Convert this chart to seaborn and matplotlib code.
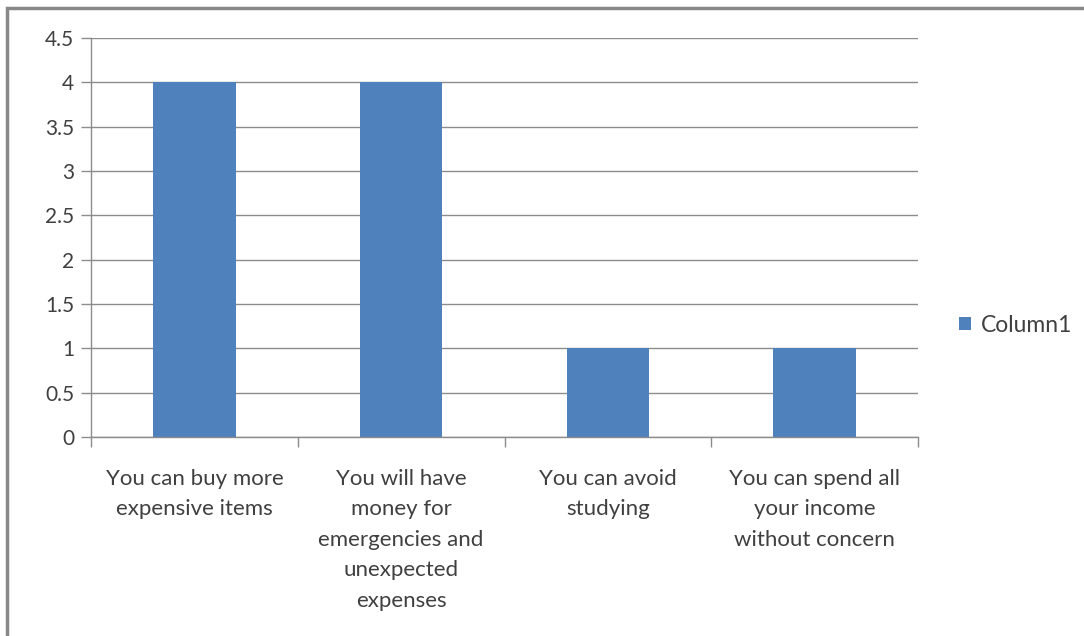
import matplotlib
matplotlib.use("Agg")
import matplotlib.pyplot as plt
import seaborn as sns
import pandas as pd
from matplotlib.patches import Rectangle

categories = [
    "You can buy more\nexpensive items",
    "You will have\nmoney for\nemergencies and\nunexpected\nexpenses",
    "You can avoid\nstudying",
    "You can spend all\nyour income\nwithout concern",
]
values = [4, 4, 1, 1]
series_name = "Column1"
yticks = [0, 0.5, 1, 1.5, 2, 2.5, 3, 3.5, 4, 4.5]
ytick_labels = ["0", "0.5", "1", "1.5", "2", "2.5", "3", "3.5", "4", "4.5"]

sns.set_theme(style="white")
plt.rcParams["font.family"] = ["Lato", "DejaVu Sans"]

text_color = "#404040"
bar_color = "#4F81BD"
grid_color = "#8c8c8c"

df = pd.DataFrame({"category": categories, "value": values, "series": series_name})

fig = plt.figure(figsize=(10.84, 6.36), dpi=100)
ax = fig.add_axes([91 / 1084, 1 - 437 / 636, (918 - 91) / 1084, (437 - 38) / 636])

sns.barplot(data=df, x="category", y="value", hue="series", palette=[bar_color],
            width=0.4, ax=ax, saturation=1, legend=True, linewidth=0)

ax.set_xlim(-0.5, len(categories) - 0.5)
ax.set_ylim(0, 4.5)
ax.set_yticks(yticks)
ax.set_yticklabels(ytick_labels, fontsize=15, color=text_color)
ax.yaxis.grid(True, color=grid_color, linewidth=1)
ax.set_axisbelow(True)
ax.set_xlabel("")
ax.set_ylabel("")

for s in ["top", "right"]:
    ax.spines[s].set_visible(False)
for s in ["left", "bottom"]:
    ax.spines[s].set_color(grid_color)
    ax.spines[s].set_linewidth(1)

ax.tick_params(axis="y", which="major", length=7, width=1, color=grid_color,
               direction="out", left=True, pad=5)

# category labels (multi-line, Excel-like line spacing)
ax.set_xticks(range(len(categories)))
ax.set_xticklabels([""] * len(categories))
ax.tick_params(axis="x", which="major", length=0)
for i, cat in enumerate(categories):
    ax.annotate(cat, xy=(i, 0), xycoords=ax.get_xaxis_transform(),
                xytext=(0, -32), textcoords="offset pixels",
                ha="center", va="top", fontsize=16, color=text_color,
                linespacing=1.65, annotation_clip=False)
ax.set_xticks([i - 0.5 for i in range(len(categories) + 1)], minor=True)
ax.tick_params(axis="x", which="minor", length=7, width=1, color=grid_color,
               direction="out", bottom=True)

leg = ax.legend(loc="center left", bbox_to_anchor=(1.025, 0.28), frameon=False,
                fontsize=16.5, handlelength=0.5, handleheight=0.5, handletextpad=0.45)
for t in leg.get_texts():
    t.set_color(text_color)

border = Rectangle((7 / 1084, -0.1), 1.2, 1 - 8 / 636 + 0.1, transform=fig.transFigure,
                   fill=False, edgecolor="#888888", linewidth=2.5)
fig.patches.append(border)

fig.savefig("out.png", dpi=100)
